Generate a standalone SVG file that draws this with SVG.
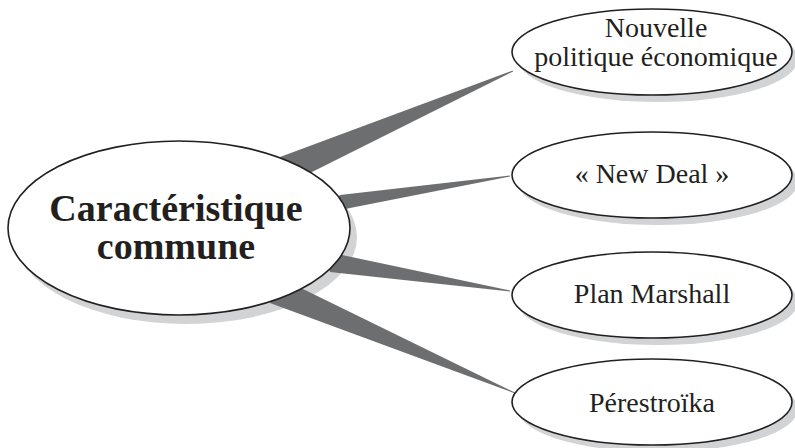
<svg xmlns="http://www.w3.org/2000/svg" width="795" height="448" viewBox="0 0 795 448">
<style>
.shadow{fill:#d1d3d4;stroke:none}
.node{fill:#ffffff;stroke:#231f20;stroke-width:1.6}
.wedge{fill:#6d6e70;stroke:none}
.t{font-family:"Liberation Serif","Times New Roman",serif;fill:#231f20;text-anchor:middle}
.big{font-size:38px;font-weight:bold}
.small{font-size:28px}
</style>
<rect width="795" height="448" fill="#ffffff"/>
<g id="shadows">
<ellipse class="shadow" cx="186" cy="237" rx="171" ry="87"/>
<ellipse class="shadow" cx="658" cy="59" rx="140" ry="43"/>
<ellipse class="shadow" cx="658" cy="182" rx="140" ry="43"/>
<ellipse class="shadow" cx="658" cy="302" rx="140" ry="43"/>
<ellipse class="shadow" cx="658" cy="409" rx="140" ry="43"/>
</g>
<g id="connectors">
<polygon class="wedge" points="280,157 513,70.5 513,71.5 312,172 290,180"/>
<polygon class="wedge" points="340,195 510,175.6 510,176.4 350,208 320,215"/>
<polygon class="wedge" points="342,255 510,290.6 510,291.4 330,272 320,245"/>
<polygon class="wedge" points="305,290 515,392.6 515,393.4 270,303 280,280"/>
</g>
<g id="center">
<ellipse class="node" cx="179" cy="228" rx="171" ry="87"/>
<text class="t big" x="176" y="221">Caractéristique</text>
<text class="t big" x="176" y="259">commune</text>
</g>
<g id="nep">
<ellipse class="node" cx="652" cy="52" rx="140" ry="43"/>
<text class="t small" x="656" y="37">Nouvelle</text>
<text class="t small" x="656" y="66">politique économique</text>
</g>
<g id="newdeal">
<ellipse class="node" cx="652" cy="175" rx="140" ry="43"/>
<text class="t small" x="652" y="183">« New Deal »</text>
</g>
<g id="marshall">
<ellipse class="node" cx="652" cy="295" rx="140" ry="43"/>
<text class="t small" x="652" y="303">Plan Marshall</text>
</g>
<g id="perestroika">
<ellipse class="node" cx="652" cy="402" rx="140" ry="43"/>
<text class="t small" x="652" y="412">Pérestroïka</text>
</g>
</svg>
